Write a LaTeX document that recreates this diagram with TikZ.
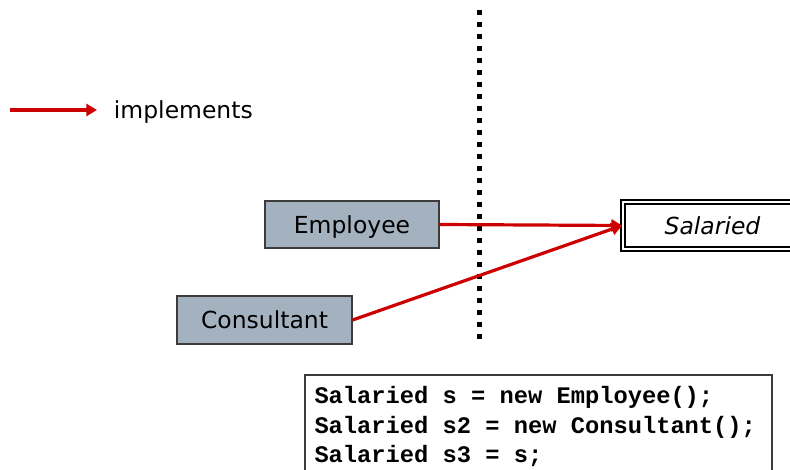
\documentclass[tikz,border=0pt]{standalone}
\usepackage{fontspec}
\setmainfont{DejaVu Sans}
\newfontfamily\codefont{Liberation Mono}
\usetikzlibrary{arrows.meta,positioning}
\definecolor{implred}{RGB}{204,0,0}
\definecolor{classfill}{RGB}{164,178,192}
\definecolor{classline}{RGB}{60,60,60}
\tikzset{every picture/.style={line width=0.75pt}}
\tikzset{
  classbox/.style={draw=classline,fill=classfill,line width=0.9pt,minimum width=130.5pt,minimum height=35.25pt,inner sep=0pt,text depth=0pt,font=\fontsize{17.6}{20}\selectfont},
  ifacebox/.style={draw=black,double=white,line width=1.3pt,double distance=2.2pt,minimum width=134.25pt,minimum height=35.25pt,inner sep=0pt,text depth=0pt,font=\fontsize{17.6}{20}\selectfont\itshape},
  implarrow/.style={draw=implred,line width=2.4pt,-{Triangle[length=8pt,width=9pt]}},
  codetext/.style={align=left,inner sep=0pt,font=\codefont\bfseries\fontsize{17.8}{22}\selectfont}
}

\begin{document}
\begin{tikzpicture}[x=0.75pt,y=0.75pt,yscale=-1,xscale=1]
	\useasboundingbox (0,0) rectangle (790,470);

	% separating line
	\draw [line width=3.75pt,dash pattern={on 3.75pt off 5.25pt}] (479,10) -- (479,340) ;

	% legend
	\coordinate (lgA) at (10,110);
	\coordinate (lgB) at (97,110);
	\draw [implarrow] (lgA) -- (lgB) ;
	\node [anchor=west,font=\fontsize{17.6}{20}\selectfont] (lgtxt) at (109,112.5) {implements};

	% classes
	\node [classbox] (emp) at (352,224.5) {Employee};
	\node [classbox,minimum width=131.25pt,minimum height=36pt] (cons) at (264.5,320) {Consultant};
	% interface
	\node [ifacebox] (sal) at (712.5,225.5) {Salaried};

	\draw [implarrow] (emp.east) -- (sal.west) ;
	\draw [implarrow] (cons.east) -- (sal.west) ;

	% code
	\coordinate (codeNW) at (305,375);
	\coordinate (codeSE) at (772,490);
	\draw [draw=classline,line width=0.8pt] (codeNW) rectangle (codeSE) ;
	\node [codetext,anchor=north west] (code) at (314,386) {Salaried s = new Employee();\\Salaried s2 = new Consultant();\\Salaried s3 = s;};

\end{tikzpicture}
\end{document}
